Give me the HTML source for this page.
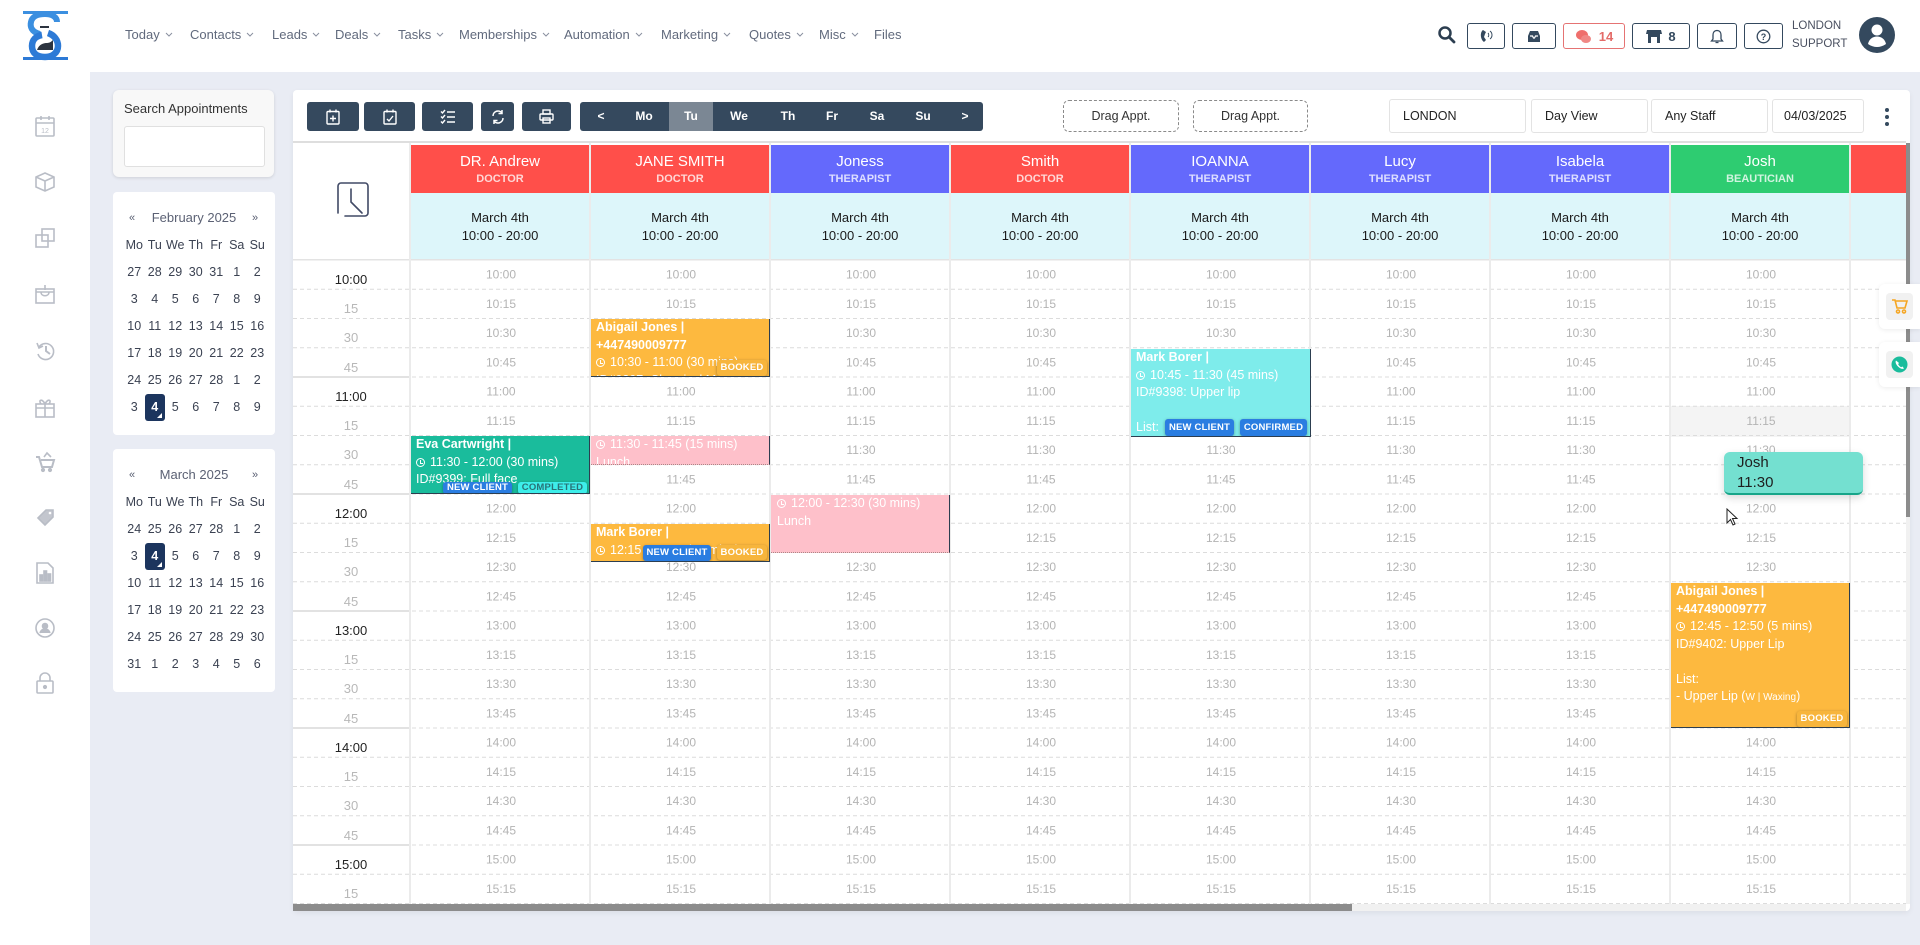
<!DOCTYPE html>
<html><head><meta charset="utf-8">
<style>
*{box-sizing:border-box;margin:0;padding:0}
body{width:1920px;height:945px;overflow:hidden;background:#e9ecf4;font-family:"Liberation Sans",sans-serif;position:relative}
.a{position:absolute}
#top{left:0;top:0;width:1920px;height:72px;background:#fff}
#side{left:0;top:72px;width:90px;height:873px;background:#fff}
.nav{top:27px;font-size:13px;color:#616a7d;white-space:nowrap;line-height:16px}
.nav svg{margin-left:5px;vertical-align:2px}
.hb{top:23px;height:26px;border:1.3px solid #34495e;border-radius:3px;display:flex;align-items:center;justify-content:center;font-size:13px;font-weight:bold;color:#34495e}
.card{background:#fff;border-radius:5px}
.cal{left:113px;width:162px;background:#fff;border-radius:4px}
.cal .hd{position:absolute;top:17px;left:0;width:162px;height:18px;font-size:13px;color:#5b6174;text-align:center;line-height:18px}
.cal .hd .l{position:absolute;left:16px;font-size:11px;color:#5b6174}
.cal .hd .r{position:absolute;left:139px;font-size:11px;color:#5b6174}
.cal .g{position:absolute;top:40px;left:11px;display:grid;grid-template-columns:repeat(7,20.5px);grid-auto-rows:27px;font-size:12.5px;color:#3b4252;text-align:center;line-height:27px}
.cal .g .s{background:#1c355e;color:#fff;border-radius:3px;font-weight:bold;position:relative}
.cal .g .s:after{content:"";position:absolute;right:3px;bottom:3px;border-left:5px solid transparent;border-bottom:5px solid #fff}
#panel{left:293px;top:90px;width:1617px;height:821px;background:#fff;border-radius:4px;box-shadow:0 2px 6px rgba(0,0,0,.06)}
.tb{top:102px;height:29px;background:#35495e;border-radius:3px;display:flex;align-items:center;justify-content:center}
.wk{color:#fff;font-size:12px;font-weight:bold;top:102px;height:29px;line-height:29px;text-align:center;width:30px;margin-left:-15px}
.drag{top:100px;height:32px;border:1px dashed #8a8a8a;border-radius:6px;font-size:12.5px;color:#333;text-align:center;line-height:30px}
.sel{top:99px;height:34px;border:1px solid #e3e3e3;border-radius:3px;font-size:12.5px;color:#222;line-height:32px;padding-left:13px}
.ap{position:absolute;color:#fff;font-size:12.5px;line-height:17.5px;padding:0 5px;overflow:hidden;white-space:nowrap;border-right:1px solid #2c3e50;border-bottom:1px solid #2c3e50}
.ap b{font-weight:bold}
.ck{display:inline-block;width:9px;height:9px;border:1.3px solid #fff;border-radius:50%;margin-right:5px;vertical-align:-1px;position:relative}
.ck:after{content:"";position:absolute;left:3px;top:1px;width:2px;height:3px;border-left:1.2px solid #fff;border-bottom:1.2px solid #fff}
.bd{position:absolute;font-size:9.5px;font-weight:bold;color:#fff;text-align:center;border-radius:3px;box-shadow:0 1px 3px rgba(0,0,0,.35);letter-spacing:.2px}
.bk{background:#f7b53c}
.nc{background:#2a7de1}
.lu{background:#fec0ca;border-bottom:1px dotted #b08890}
</style></head><body>

<div id="top" class="a"></div>
<div id="side" class="a"></div>

<!-- logo -->
<svg class="a" style="left:20px;top:8px" width="52" height="56" viewBox="20 8 52 56">
<rect x="23" y="11" width="45" height="3" fill="#3b8fe0"/>
<rect x="23" y="57" width="45" height="3" fill="#2d7ad6"/>
<path d="M40 34 C31 32 30 26 31 22 C32 17 37 14 45 14 C52 14 57 17 57 22" stroke="#3b8fe0" stroke-width="6" fill="none"/>
<path d="M48 33 C54 35 58 40 58 46 C58 53 52 57 45 57 C37 57 32 53 32 46 C32 40 36 36 42 35" stroke="#2d7ad6" stroke-width="6.5" fill="none"/>
<path d="M37 50 C39 44 44 43 47 43 C50 43 52 41 53 40 L53 50 Z" fill="#2c3440"/>
<rect x="40" y="26" width="9" height="2" fill="#2c3440"/>
</svg>

<!-- nav -->
<div class="a nav" style="left:125px">Today<svg width="8" height="5"><path d="M1 1l3 3 3-3" stroke="#8a90a0" fill="none"/></svg></div>
<div class="a nav" style="left:190px">Contacts<svg width="8" height="5"><path d="M1 1l3 3 3-3" stroke="#8a90a0" fill="none"/></svg></div>
<div class="a nav" style="left:272px">Leads<svg width="8" height="5"><path d="M1 1l3 3 3-3" stroke="#8a90a0" fill="none"/></svg></div>
<div class="a nav" style="left:335px">Deals<svg width="8" height="5"><path d="M1 1l3 3 3-3" stroke="#8a90a0" fill="none"/></svg></div>
<div class="a nav" style="left:398px">Tasks<svg width="8" height="5"><path d="M1 1l3 3 3-3" stroke="#8a90a0" fill="none"/></svg></div>
<div class="a nav" style="left:459px">Memberships<svg width="8" height="5"><path d="M1 1l3 3 3-3" stroke="#8a90a0" fill="none"/></svg></div>
<div class="a nav" style="left:564px">Automation<svg width="8" height="5"><path d="M1 1l3 3 3-3" stroke="#8a90a0" fill="none"/></svg></div>
<div class="a nav" style="left:661px">Marketing<svg width="8" height="5"><path d="M1 1l3 3 3-3" stroke="#8a90a0" fill="none"/></svg></div>
<div class="a nav" style="left:749px">Quotes<svg width="8" height="5"><path d="M1 1l3 3 3-3" stroke="#8a90a0" fill="none"/></svg></div>
<div class="a nav" style="left:819px">Misc<svg width="8" height="5"><path d="M1 1l3 3 3-3" stroke="#8a90a0" fill="none"/></svg></div>
<div class="a nav" style="left:874px">Files</div>

<!-- header right -->
<svg class="a" style="left:1436px;top:24px" width="22" height="22"><circle cx="9" cy="9" r="5.5" stroke="#2c3e50" stroke-width="2.5" fill="none"/><path d="M13 13l5 5" stroke="#2c3e50" stroke-width="2.8" stroke-linecap="round"/></svg>
<div class="a hb" style="left:1467px;width:38px"><svg width="14" height="14"><path d="M4 1 C1 3 1 10 5 13 L7 11 L5 8 L6 5 L7 3 Z" fill="#34495e"/><path d="M9 4a3 3 0 0 1 0 4M11 2a5 5 0 0 1 0 8" stroke="#34495e" fill="none" stroke-width="1"/></svg></div>
<div class="a hb" style="left:1512px;width:44px"><svg width="16" height="13"><path d="M2 6 L4 1 H12 L14 6 V12 H2 Z" fill="#34495e"/><path d="M4 6h2.5l1 2h1l1-2H12" stroke="#fff" stroke-width="1.2" fill="none"/></svg></div>
<div class="a hb" style="left:1563px;width:62px;border-color:#e57373;color:#e46b68"><svg width="18" height="15" style="margin-right:6px"><ellipse cx="7" cy="6" rx="6" ry="5" fill="#ef6f6c"/><ellipse cx="11" cy="10" rx="5" ry="4" fill="#f08885"/></svg>14</div>
<div class="a hb" style="left:1632px;width:58px"><svg width="16" height="15" style="margin-right:6px"><path d="M1 1h14l1 4H0z" fill="#34495e"/><rect x="2" y="5" width="12" height="9" fill="#34495e"/><rect x="5" y="8" width="6" height="6" fill="#fff"/></svg>8</div>
<div class="a hb" style="left:1697px;width:40px"><svg width="14" height="15"><path d="M7 1.5C4 1.5 3 4 3 6v4L1.5 12h11L11 10V6c0-2-1-4.5-4-4.5z" stroke="#34495e" stroke-width="1.3" fill="none"/><path d="M5.5 13.5h3" stroke="#34495e" stroke-width="1.3"/></svg></div>
<div class="a hb" style="left:1744px;width:39px"><svg width="15" height="15"><circle cx="7.5" cy="7.5" r="6.3" stroke="#34495e" stroke-width="1.3" fill="none"/><text x="7.5" y="11" font-size="9" font-weight="bold" fill="#34495e" text-anchor="middle" font-family="Liberation Sans">?</text></svg></div>
<div class="a" style="left:1792px;top:17px;font-size:11.5px;color:#4a5060;line-height:18px">LONDON<br>SUPPORT</div>
<svg class="a" style="left:1859px;top:17px" width="36" height="36"><circle cx="18" cy="18" r="18" fill="#34495e"/><circle cx="18" cy="13" r="5.5" fill="#fff"/><path d="M9 27c1-5 5-7.5 9-7.5s8 2.5 9 7.5c-3 2-6 3-9 3s-6-1-9-3z" fill="#fff"/></svg>

<!-- sidebar icons -->
<svg class="a" style="left:0;top:100px" width="90" height="610" fill="none" stroke="#b9bdc6" stroke-width="1.6">
<g transform="translate(36,16)"><rect x="0" y="2" width="18" height="18" rx="1"/><path d="M0 7h18M5 0v4M13 0v4"/><text x="9" y="17" font-size="7" fill="#b9bdc6" stroke="none" text-anchor="middle" font-family="Liberation Sans">12</text></g>
<g transform="translate(36,72)"><path d="M9 1 L18 5 V15 L9 19 L0 15 V5 Z M0 5 L9 9 L18 5 M9 9 V19"/></g>
<g transform="translate(36,129)"><rect x="0" y="6" width="12" height="12"/><rect x="6" y="0" width="12" height="12"/></g>
<g transform="translate(36,185)"><rect x="0" y="4" width="18" height="14"/><path d="M0 7h18M5 7c0 5 8 5 8 0M9 0v5"/></g>
<g transform="translate(36,241)"><path d="M3 6 A8 8 0 1 1 2 13"/><path d="M1 2 L3 7 L7 5"/><path d="M10 5v5l4 3" stroke-width="2"/></g>
<g transform="translate(36,298)"><rect x="0" y="6" width="18" height="13"/><path d="M0 10h18M9 6v13M9 6C6 0 2 2 5 6M9 6c3-6 7-4 4 0"/></g>
<g transform="translate(36,353)"><path d="M0 4h3l3 10h10l2-7H5" stroke-width="2"/><circle cx="7" cy="17" r="1.3" fill="#b9bdc6"/><circle cx="14" cy="17" r="1.3" fill="#b9bdc6"/><path d="M8 4l3-4 4 4" /></g>
<g transform="translate(36,408)"><path d="M2 10 L10 2 H17 V9 L9 17 Z" fill="#c3c6ce"/><circle cx="14" cy="5" r="1.3" fill="#fff" stroke="none"/></g>
<g transform="translate(37,463)"><path d="M0 0h11l5 5v15H0z"/><rect x="3" y="12" width="2.5" height="6" fill="#b9bdc6"/><rect x="7" y="8" width="2.5" height="10" fill="#b9bdc6"/><rect x="11" y="11" width="2.5" height="7" fill="#b9bdc6"/></g>
<g transform="translate(35,518)"><circle cx="10" cy="10" r="9"/><circle cx="10" cy="8" r="2.5" fill="#b9bdc6"/><path d="M5 15c1-3 3-4 5-4s4 1 5 4" fill="#b9bdc6"/></g>
<g transform="translate(37,573)"><rect x="0" y="8" width="16" height="12" rx="1"/><path d="M3 8V5a5 5 0 0 1 10 0v3"/><circle cx="8" cy="14" r="1.3" fill="#b9bdc6"/></g>
</svg>

<!-- search card -->
<div class="a" style="left:113px;top:90px;width:161px;height:87px;background:#f8f8f8;border-radius:6px;box-shadow:0 1px 3px rgba(0,0,0,.12)">
<div class="a" style="left:11px;top:11px;font-size:13px;color:#333">Search Appointments</div>
<div class="a" style="left:11px;top:36px;width:141px;height:41px;background:#fff;border:1px solid #e0e0e0;border-radius:3px"></div>
</div>

<!-- feb calendar -->
<div class="a cal" style="top:192px;height:243px">
<div class="hd"><span class="l">«</span>February 2025<span class="r">»</span></div>
<div class="g">
<div>Mo</div><div>Tu</div><div>We</div><div>Th</div><div>Fr</div><div>Sa</div><div>Su</div>
<div>27</div><div>28</div><div>29</div><div>30</div><div>31</div><div>1</div><div>2</div>
<div>3</div><div>4</div><div>5</div><div>6</div><div>7</div><div>8</div><div>9</div>
<div>10</div><div>11</div><div>12</div><div>13</div><div>14</div><div>15</div><div>16</div>
<div>17</div><div>18</div><div>19</div><div>20</div><div>21</div><div>22</div><div>23</div>
<div>24</div><div>25</div><div>26</div><div>27</div><div>28</div><div>1</div><div>2</div>
<div>3</div><div class="s">4</div><div>5</div><div>6</div><div>7</div><div>8</div><div>9</div>
</div></div>

<!-- march calendar -->
<div class="a cal" style="top:449px;height:243px">
<div class="hd"><span class="l">«</span>March 2025<span class="r">»</span></div>
<div class="g">
<div>Mo</div><div>Tu</div><div>We</div><div>Th</div><div>Fr</div><div>Sa</div><div>Su</div>
<div>24</div><div>25</div><div>26</div><div>27</div><div>28</div><div>1</div><div>2</div>
<div>3</div><div class="s">4</div><div>5</div><div>6</div><div>7</div><div>8</div><div>9</div>
<div>10</div><div>11</div><div>12</div><div>13</div><div>14</div><div>15</div><div>16</div>
<div>17</div><div>18</div><div>19</div><div>20</div><div>21</div><div>22</div><div>23</div>
<div>24</div><div>25</div><div>26</div><div>27</div><div>28</div><div>29</div><div>30</div>
<div>31</div><div>1</div><div>2</div><div>3</div><div>4</div><div>5</div><div>6</div>
</div></div>

<!-- main panel -->
<div id="panel" class="a"></div>

<!-- toolbar -->
<div class="a tb" style="left:307px;width:52px"><svg width="14" height="16" fill="none" stroke="#fff" stroke-width="1.4"><rect x="1" y="2.5" width="12" height="12.5" rx="1"/><path d="M4 0.5v3M10 0.5v3M7 6.5v6M4 9.5h6"/></svg></div>
<div class="a tb" style="left:364px;width:51px"><svg width="14" height="16" fill="none" stroke="#fff" stroke-width="1.4"><rect x="1" y="2.5" width="12" height="12.5" rx="1"/><path d="M4 0.5v3M10 0.5v3M4 10l2 2 4-5"/></svg></div>
<div class="a tb" style="left:422px;width:51px"><svg width="15" height="15" fill="none" stroke="#fff" stroke-width="1.4"><path d="M1 2.5l1.5 1.5 2.5-3M1 7.5l1.5 1.5 2.5-3M1 12.5l1.5 1.5 2.5-3M7 3h8M7 8h8M7 13h8"/></svg></div>
<div class="a tb" style="left:481px;width:33px"><svg width="14" height="16" fill="none" stroke="#fff" stroke-width="1.5"><path d="M2 7a5 5 0 0 1 9-3M12 9a5 5 0 0 1-9 3"/><path d="M11 1v3.5H7.5M3 15v-3.5h3.5"/></svg></div>
<div class="a tb" style="left:522px;width:49px"><svg width="15" height="15" fill="none" stroke="#fff" stroke-width="1.4"><rect x="4" y="1" width="7" height="4"/><rect x="1" y="5" width="13" height="6" rx="1"/><rect x="4" y="9" width="7" height="5"/></svg></div>
<div class="a tb" style="left:580px;width:403px"></div>
<div class="a" style="left:669px;top:102px;width:44px;height:29px;background:#7b8794"></div>
<div class="a wk" style="left:601px">&lt;</div>
<div class="a wk" style="left:644px">Mo</div>
<div class="a wk" style="left:691px">Tu</div>
<div class="a wk" style="left:739px">We</div>
<div class="a wk" style="left:788px">Th</div>
<div class="a wk" style="left:832px">Fr</div>
<div class="a wk" style="left:877px">Sa</div>
<div class="a wk" style="left:923px">Su</div>
<div class="a wk" style="left:965px">&gt;</div>

<div class="a drag" style="left:1063px;width:116px">Drag Appt.</div>
<div class="a drag" style="left:1193px;width:115px">Drag Appt.</div>
<div class="a sel" style="left:1389px;width:137px">LONDON</div>
<div class="a sel" style="left:1531px;width:117px">Day View</div>
<div class="a sel" style="left:1651px;width:117px">Any Staff</div>
<div class="a sel" style="left:1772px;width:92px;padding-left:11px">04/03/2025</div>
<svg class="a" style="left:1883px;top:106px" width="8" height="22"><circle cx="4" cy="4" r="2" fill="#34495e"/><circle cx="4" cy="11" r="2" fill="#34495e"/><circle cx="4" cy="18" r="2" fill="#34495e"/></svg>

<!-- grid -->
<svg class="a" style="left:0;top:0" width="1920" height="945" font-family="Liberation Sans">
<rect x="293" y="141" width="1613" height="2" fill="#dedede"/>
<g>
<rect x="411" y="145" width="178" height="48" fill="#ff4f4a"/>
<rect x="591" y="145" width="178" height="48" fill="#ff4f4a"/>
<rect x="771" y="145" width="178" height="48" fill="#6469fc"/>
<rect x="951" y="145" width="178" height="48" fill="#ff4f4a"/>
<rect x="1131" y="145" width="178" height="48" fill="#6469fc"/>
<rect x="1311" y="145" width="178" height="48" fill="#6469fc"/>
<rect x="1491" y="145" width="178" height="48" fill="#6469fc"/>
<rect x="1671" y="145" width="178" height="48" fill="#2ecc71"/>
<rect x="1851" y="145" width="55" height="48" fill="#ff4f4a"/>
<rect x="411" y="193" width="1495" height="67" fill="#ddf6fa"/>
</g>
<rect x="293" y="259" width="1613" height="1.5" fill="#e3e3e3"/>
<rect x="1671" y="406" width="178" height="31" fill="#f4f4f4"/>
<g stroke="#dcdcdc" stroke-dasharray="4 3" stroke-width="1">
<line x1="293" x2="1906" y1="289.25" y2="289.25"/>
<line x1="293" x2="1906" y1="318.5" y2="318.5"/>
<line x1="293" x2="1906" y1="347.75" y2="347.75"/>
<line x1="293" x2="1906" y1="377" y2="377"/>
<line x1="293" x2="1906" y1="406.25" y2="406.25"/>
<line x1="293" x2="1906" y1="435.5" y2="435.5"/>
<line x1="293" x2="1906" y1="464.75" y2="464.75"/>
<line x1="293" x2="1906" y1="494" y2="494"/>
<line x1="293" x2="1906" y1="523.25" y2="523.25"/>
<line x1="293" x2="1906" y1="552.5" y2="552.5"/>
<line x1="293" x2="1906" y1="581.75" y2="581.75"/>
<line x1="293" x2="1906" y1="611" y2="611"/>
<line x1="293" x2="1906" y1="640.25" y2="640.25"/>
<line x1="293" x2="1906" y1="669.5" y2="669.5"/>
<line x1="293" x2="1906" y1="698.75" y2="698.75"/>
<line x1="293" x2="1906" y1="728" y2="728"/>
<line x1="293" x2="1906" y1="757.25" y2="757.25"/>
<line x1="293" x2="1906" y1="786.5" y2="786.5"/>
<line x1="293" x2="1906" y1="815.75" y2="815.75"/>
<line x1="293" x2="1906" y1="845" y2="845"/>
<line x1="293" x2="1906" y1="874.25" y2="874.25"/>
<line x1="293" x2="1906" y1="903.5" y2="903.5"/>
</g>
<g stroke="#e2e2e2" stroke-width="2">
<line x1="293" x2="409" y1="377" y2="377"/>
<line x1="293" x2="409" y1="494" y2="494"/>
<line x1="293" x2="409" y1="611" y2="611"/>
<line x1="293" x2="409" y1="728" y2="728"/>
<line x1="293" x2="409" y1="845" y2="845"/>
</g>
<g fill="#ebebeb">
<rect x="409" y="143" width="2" height="761"/>
<rect x="589" y="143" width="2" height="761"/>
<rect x="769" y="143" width="2" height="761"/>
<rect x="949" y="143" width="2" height="761"/>
<rect x="1129" y="143" width="2" height="761"/>
<rect x="1309" y="143" width="2" height="761"/>
<rect x="1489" y="143" width="2" height="761"/>
<rect x="1669" y="143" width="2" height="761"/>
<rect x="1849" y="143" width="2" height="761"/>
</g>
<!-- clock icon -->
<g fill="none" stroke="#414a66" stroke-width="1.6" stroke-linecap="round">
<path d="M338 213 V186 a3 3 0 0 1 3 -3 H365 a3 3 0 0 1 3 3 V213 a3 3 0 0 1 -3 3 H345"/>
<path d="M351 189 V202 L362 213"/>
</g>
<!-- header text -->
<g text-anchor="middle">
<g fill="#fff" font-size="15">
<text x="500" y="166">DR. Andrew</text><text x="680" y="166">JANE SMITH</text><text x="860" y="166">Joness</text><text x="1040" y="166">Smith</text><text x="1220" y="166">IOANNA</text><text x="1400" y="166">Lucy</text><text x="1580" y="166">Isabela</text><text x="1760" y="166">Josh</text>
</g>
<g fill="#fff" fill-opacity=".78" font-size="11" font-weight="bold">
<text x="500" y="182">DOCTOR</text><text x="680" y="182">DOCTOR</text><text x="860" y="182">THERAPIST</text><text x="1040" y="182">DOCTOR</text><text x="1220" y="182">THERAPIST</text><text x="1400" y="182">THERAPIST</text><text x="1580" y="182">THERAPIST</text><text x="1760" y="182">BEAUTICIAN</text>
</g>
<g fill="#1a1a1a" font-size="13">
<text x="500" y="222">March 4th</text><text x="680" y="222">March 4th</text><text x="860" y="222">March 4th</text><text x="1040" y="222">March 4th</text><text x="1220" y="222">March 4th</text><text x="1400" y="222">March 4th</text><text x="1580" y="222">March 4th</text><text x="1760" y="222">March 4th</text>
<text x="500" y="240">10:00 - 20:00</text><text x="680" y="240">10:00 - 20:00</text><text x="860" y="240">10:00 - 20:00</text><text x="1040" y="240">10:00 - 20:00</text><text x="1220" y="240">10:00 - 20:00</text><text x="1400" y="240">10:00 - 20:00</text><text x="1580" y="240">10:00 - 20:00</text><text x="1760" y="240">10:00 - 20:00</text>
</g>
</g>
<!-- time column -->
<g text-anchor="middle" font-size="13">
<g fill="#222">
<text x="351" y="284">10:00</text><text x="351" y="401">11:00</text><text x="351" y="518">12:00</text><text x="351" y="635">13:00</text><text x="351" y="752">14:00</text><text x="351" y="869">15:00</text>
</g>
<g fill="#b8b8b8">
<text x="351" y="313">15</text><text x="351" y="342">30</text><text x="351" y="372">45</text>
<text x="351" y="430">15</text><text x="351" y="459">30</text><text x="351" y="489">45</text>
<text x="351" y="547">15</text><text x="351" y="576">30</text><text x="351" y="606">45</text>
<text x="351" y="664">15</text><text x="351" y="693">30</text><text x="351" y="723">45</text>
<text x="351" y="781">15</text><text x="351" y="810">30</text><text x="351" y="840">45</text>
<text x="351" y="898">15</text>
</g>
</g>
<!-- staff labels -->
<g text-anchor="middle" font-size="12" fill="#b4b4b4">
<g transform="translate(0,278.5)"><text x="501">10:00</text><text x="681">10:00</text><text x="861">10:00</text><text x="1041">10:00</text><text x="1221">10:00</text><text x="1401">10:00</text><text x="1581">10:00</text><text x="1761">10:00</text></g>
<g transform="translate(0,307.75)"><text x="501">10:15</text><text x="681">10:15</text><text x="861">10:15</text><text x="1041">10:15</text><text x="1221">10:15</text><text x="1401">10:15</text><text x="1581">10:15</text><text x="1761">10:15</text></g>
<g transform="translate(0,337)"><text x="501">10:30</text><text x="681">10:30</text><text x="861">10:30</text><text x="1041">10:30</text><text x="1221">10:30</text><text x="1401">10:30</text><text x="1581">10:30</text><text x="1761">10:30</text></g>
<g transform="translate(0,366.25)"><text x="501">10:45</text><text x="681">10:45</text><text x="861">10:45</text><text x="1041">10:45</text><text x="1221">10:45</text><text x="1401">10:45</text><text x="1581">10:45</text><text x="1761">10:45</text></g>
<g transform="translate(0,395.5)"><text x="501">11:00</text><text x="681">11:00</text><text x="861">11:00</text><text x="1041">11:00</text><text x="1221">11:00</text><text x="1401">11:00</text><text x="1581">11:00</text><text x="1761">11:00</text></g>
<g transform="translate(0,424.75)"><text x="501">11:15</text><text x="681">11:15</text><text x="861">11:15</text><text x="1041">11:15</text><text x="1221">11:15</text><text x="1401">11:15</text><text x="1581">11:15</text><text x="1761">11:15</text></g>
<g transform="translate(0,454)"><text x="501">11:30</text><text x="681">11:30</text><text x="861">11:30</text><text x="1041">11:30</text><text x="1221">11:30</text><text x="1401">11:30</text><text x="1581">11:30</text><text x="1761">11:30</text></g>
<g transform="translate(0,483.25)"><text x="501">11:45</text><text x="681">11:45</text><text x="861">11:45</text><text x="1041">11:45</text><text x="1221">11:45</text><text x="1401">11:45</text><text x="1581">11:45</text><text x="1761">11:45</text></g>
<g transform="translate(0,512.5)"><text x="501">12:00</text><text x="681">12:00</text><text x="861">12:00</text><text x="1041">12:00</text><text x="1221">12:00</text><text x="1401">12:00</text><text x="1581">12:00</text><text x="1761">12:00</text></g>
<g transform="translate(0,541.75)"><text x="501">12:15</text><text x="681">12:15</text><text x="861">12:15</text><text x="1041">12:15</text><text x="1221">12:15</text><text x="1401">12:15</text><text x="1581">12:15</text><text x="1761">12:15</text></g>
<g transform="translate(0,571)"><text x="501">12:30</text><text x="681">12:30</text><text x="861">12:30</text><text x="1041">12:30</text><text x="1221">12:30</text><text x="1401">12:30</text><text x="1581">12:30</text><text x="1761">12:30</text></g>
<g transform="translate(0,600.25)"><text x="501">12:45</text><text x="681">12:45</text><text x="861">12:45</text><text x="1041">12:45</text><text x="1221">12:45</text><text x="1401">12:45</text><text x="1581">12:45</text><text x="1761">12:45</text></g>
<g transform="translate(0,629.5)"><text x="501">13:00</text><text x="681">13:00</text><text x="861">13:00</text><text x="1041">13:00</text><text x="1221">13:00</text><text x="1401">13:00</text><text x="1581">13:00</text><text x="1761">13:00</text></g>
<g transform="translate(0,658.75)"><text x="501">13:15</text><text x="681">13:15</text><text x="861">13:15</text><text x="1041">13:15</text><text x="1221">13:15</text><text x="1401">13:15</text><text x="1581">13:15</text><text x="1761">13:15</text></g>
<g transform="translate(0,688)"><text x="501">13:30</text><text x="681">13:30</text><text x="861">13:30</text><text x="1041">13:30</text><text x="1221">13:30</text><text x="1401">13:30</text><text x="1581">13:30</text><text x="1761">13:30</text></g>
<g transform="translate(0,717.25)"><text x="501">13:45</text><text x="681">13:45</text><text x="861">13:45</text><text x="1041">13:45</text><text x="1221">13:45</text><text x="1401">13:45</text><text x="1581">13:45</text><text x="1761">13:45</text></g>
<g transform="translate(0,746.5)"><text x="501">14:00</text><text x="681">14:00</text><text x="861">14:00</text><text x="1041">14:00</text><text x="1221">14:00</text><text x="1401">14:00</text><text x="1581">14:00</text><text x="1761">14:00</text></g>
<g transform="translate(0,775.75)"><text x="501">14:15</text><text x="681">14:15</text><text x="861">14:15</text><text x="1041">14:15</text><text x="1221">14:15</text><text x="1401">14:15</text><text x="1581">14:15</text><text x="1761">14:15</text></g>
<g transform="translate(0,805)"><text x="501">14:30</text><text x="681">14:30</text><text x="861">14:30</text><text x="1041">14:30</text><text x="1221">14:30</text><text x="1401">14:30</text><text x="1581">14:30</text><text x="1761">14:30</text></g>
<g transform="translate(0,834.25)"><text x="501">14:45</text><text x="681">14:45</text><text x="861">14:45</text><text x="1041">14:45</text><text x="1221">14:45</text><text x="1401">14:45</text><text x="1581">14:45</text><text x="1761">14:45</text></g>
<g transform="translate(0,863.5)"><text x="501">15:00</text><text x="681">15:00</text><text x="861">15:00</text><text x="1041">15:00</text><text x="1221">15:00</text><text x="1401">15:00</text><text x="1581">15:00</text><text x="1761">15:00</text></g>
<g transform="translate(0,892.75)"><text x="501">15:15</text><text x="681">15:15</text><text x="861">15:15</text><text x="1041">15:15</text><text x="1221">15:15</text><text x="1401">15:15</text><text x="1581">15:15</text><text x="1761">15:15</text></g>
</g>
<!-- scrollbars -->
<rect x="1906" y="143" width="4" height="761" fill="#f1f1f1"/>
<rect x="1906" y="143" width="4" height="374" fill="#8c8c8c"/>
<rect x="293" y="904" width="1613" height="7" fill="#f1f1f1"/>
<rect x="293" y="904" width="1059" height="7" fill="#8c8c8c"/>
</svg>

<!-- appointments -->
<div class="ap" style="left:591px;top:319px;width:179px;height:58px;background:#fdb93f">
<b>Abigail Jones |</b><br><b>+447490009777</b><br><i class="ck"></i>10:30 - 11:00 (30 mins)<br>ID#9397: Chemical Makeup
<div class="bd bk" style="left:126px;top:41px;width:50px;height:16px;line-height:16px">BOOKED</div>
</div>

<div class="ap" style="left:411px;top:436px;width:179px;height:58px;background:#1abc9c">
<b>Eva Cartwright |</b><br><i class="ck"></i>11:30 - 12:00 (30 mins)<br>ID#9399: Full face
<div class="bd nc" style="left:32px;top:46px;width:69px;height:12px;line-height:12px">NEW CLIENT</div>
<div class="bd" style="left:107px;top:46px;width:69px;height:12px;line-height:12px;background:#3deeea;color:#2a7377">COMPLETED</div>
</div>

<div class="ap lu" style="left:591px;top:436px;width:179px;height:29px;border-bottom:1px dotted #a88">
<i class="ck"></i>11:30 - 11:45 (15 mins)<br>Lunch
</div>

<div class="ap lu" style="left:771px;top:495px;width:179px;height:58px;border-bottom:1px dotted #a88;padding-left:6px">
<i class="ck"></i>12:00 - 12:30 (30 mins)<br>Lunch
</div>

<div class="ap" style="left:591px;top:524px;width:179px;height:38px;background:#fdb93f">
<b>Mark Borer |</b><br><i class="ck"></i>12:15 - 12:30 (15 mins)
<div class="bd nc" style="left:52px;top:21px;width:68px;height:16px;line-height:16px">NEW CLIENT</div>
<div class="bd bk" style="left:126px;top:21px;width:50px;height:15px;line-height:15px">BOOKED</div>
</div>

<div class="ap" style="left:1131px;top:349px;width:180px;height:88px;background:#7eeceb">
<b>Mark Borer |</b><br><i class="ck"></i>10:45 - 11:30 (45 mins)<br>ID#9398: Upper lip<br>&nbsp;<br>List:
<div class="bd nc" style="left:34px;top:70px;width:69px;height:17px;line-height:17px">NEW CLIENT</div>
<div class="bd nc" style="left:109px;top:70px;width:67px;height:17px;line-height:17px">CONFIRMED</div>
</div>

<div class="ap" style="left:1671px;top:583px;width:179px;height:145px;background:#fdb93f">
<b>Abigail Jones |</b><br><b>+447490009777</b><br><i class="ck"></i>12:45 - 12:50 (5 mins)<br>ID#9402: Upper Lip<br>&nbsp;<br>List:<br>- Upper Lip (<span style="font-size:10px">W | Waxing</span>)
<div class="bd bk" style="left:126px;top:128px;width:50px;height:16px;line-height:16px">BOOKED</div>
</div>

<!-- tooltip -->
<div class="a" style="left:1724px;top:452px;width:139px;height:43px;background:#74e0d0;border-radius:6px;border-bottom:2px solid #17a589;box-shadow:0 3px 8px rgba(0,0,0,.15);font-size:15px;color:#1e1e1e;line-height:20px;padding:1px 0 0 13px">Josh<br>11:30</div>
<svg class="a" style="left:1726px;top:508px" width="14" height="20"><path d="M1 1 L1 15 L4.5 11.5 L7 17 L9 16 L6.5 10.5 L11 10.5 Z" fill="#fff" stroke="#222" stroke-width="1"/></svg>

<!-- floating right -->
<div class="a" style="left:1879px;top:284px;width:41px;height:45px;background:#fff;border-radius:6px 0 0 6px;box-shadow:0 1px 5px rgba(0,0,0,.08)"></div>
<div class="a" style="left:1886px;top:293px;width:27px;height:27px;background:#f1f1f1;border-radius:4px"></div>
<svg class="a" style="left:1891px;top:298px" width="18" height="17" fill="none" stroke="#f5a623" stroke-width="1.6"><path d="M1 2h3l2 8h8l2-7H5"/><circle cx="7" cy="13.5" r="1.5"/><circle cx="13" cy="13.5" r="1.5"/></svg>
<div class="a" style="left:1879px;top:342px;width:41px;height:45px;background:#fff;border-radius:6px 0 0 6px;box-shadow:0 1px 5px rgba(0,0,0,.08)"></div>
<div class="a" style="left:1886px;top:351px;width:27px;height:27px;background:#f1f1f1;border-radius:4px"></div>
<svg class="a" style="left:1891px;top:356px" width="17" height="17"><circle cx="8.5" cy="8.5" r="8" fill="#1abc9c"/><path d="M5 4.5c-1 1.5 0 4 2 6s4.5 3 6 2l-1.5-2-1.5.7c-1-.5-2.3-1.8-2.8-2.8l.7-1.5z" fill="#fff"/></svg>

</body></html>
